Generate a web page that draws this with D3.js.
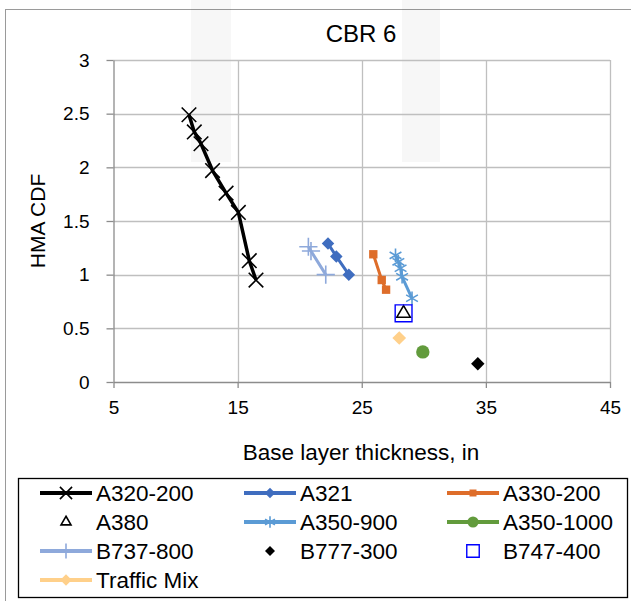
<!DOCTYPE html>
<html>
<head>
<meta charset="utf-8">
<script src="https://cdn.jsdelivr.net/npm/d3@7"></script>
<style>
  body { margin: 0; background: #fff; }
  svg { font-family: "Liberation Sans", Arial, sans-serif; }
</style>
</head>
<body>
<div id="chart-container"></div>
<script>
// values: [base layer thickness (in), HMA CDF]
const a320_200 = [[11.08, 2.49], [11.51, 2.33], [12.05, 2.22], [12.98, 1.97], [14.07, 1.76], [15.06, 1.58], [15.94, 1.13], [16.48, 0.95]];
const a321 = [[22.28, 1.29], [22.95, 1.17], [23.96, 1.00]];
const a330_200 = [[25.93, 1.19], [26.61, 0.95], [26.96, 0.86]];
const a380 = [[28.37, 0.64]];
const a350_900 = [[27.72, 1.18], [27.95, 1.12], [28.13, 1.06], [28.25, 0.98], [29.05, 0.78]];
const a350_1000 = [[29.92, 0.28]];
const b737_800 = [[20.70, 1.26], [20.91, 1.22], [22.10, 1.00]];
const b777_300 = [[34.35, 0.17]];
const b747_400 = [[28.37, 0.64]];
const trafficMix = [[28.02, 0.41]];

const xTicks = [5, 15, 25, 35, 45];
const yTicks = [0, 0.5, 1, 1.5, 2, 2.5, 3];

const series = [
  { name: "A320-200", data: a320_200, color: "#000000", line: true, lw: 3.5, symbol: d3.symbolTimes, size: 140, stroke: true },
  { name: "A321", data: a321, color: "#3F6DBF", line: true, lw: 3, symbol: d3.symbolDiamond2, size: 100, stroke: false },
  { name: "A330-200", data: a330_200, color: "#DE6D2A", line: true, lw: 3, symbol: d3.symbolSquare, size: 70, stroke: false },
  { name: "A380", data: a380, color: "#000000", line: false, symbol: d3.symbolTriangle2, size: 130, stroke: true, lwm: 1.6 },
  { name: "A350-900", data: a350_900, color: "#5B9BD5", line: true, lw: 3, symbol: d3.symbolAsterisk, size: 130, stroke: true },
  { name: "A350-1000", data: a350_1000, color: "#629B3C", line: true, lw: 3, symbol: d3.symbolCircle, size: 140, stroke: false },
  { name: "B737-800", data: b737_800, color: "#8EA9DB", line: true, lw: 3, symbol: d3.symbolPlus, size: 110, stroke: true },
  { name: "B777-300", data: b777_300, color: "#000000", line: false, symbol: d3.symbolDiamond2, size: 115, stroke: false },
  { name: "B747-400", data: b747_400, color: "#0000FF", line: false, symbol: d3.symbolSquare2, size: 360, stroke: true, lwm: 1.4 },
  { name: "Traffic Mix", data: trafficMix, color: "#FFD08A", line: true, lw: 3, symbol: d3.symbolDiamond2, size: 120, stroke: false }
];

const width = 631, height = 601;
const plot = { left: 113.5, right: 610, top: 60, bottom: 382 };

const svg = d3.select("#chart-container").append("svg")
  .attr("width", width)
  .attr("height", height);

// chart frame
svg.append("rect")
  .attr("x", 5.5).attr("y", 9.5)
  .attr("width", 700).attr("height", 700)
  .attr("fill", "#fff")
  .attr("stroke", "#9a9a9a");

// faint watermark bars behind the chart
svg.append("rect").attr("x", 191).attr("y", 0).attr("width", 40).attr("height", 162)
  .attr("fill", "#000").attr("opacity", 0.03);
svg.append("rect").attr("x", 402).attr("y", 0).attr("width", 38).attr("height", 162)
  .attr("fill", "#000").attr("opacity", 0.03);

let x = d3.scaleLinear().domain([5, 45]).range([plot.left, plot.right]);
let y = d3.scaleLinear().domain([0, 3]).range([plot.bottom, plot.top]);

// gridlines
svg.append("g").selectAll("line.h")
  .data(yTicks.filter(d => d > 0)).enter()
  .append("line")
  .attr("x1", plot.left).attr("x2", plot.right)
  .attr("y1", d => Math.round(y(d)) + 0.5).attr("y2", d => Math.round(y(d)) + 0.5)
  .attr("stroke", "#bfbfbf").attr("stroke-width", 1.3);

svg.append("g").selectAll("line.v")
  .data(xTicks.filter(d => d > 5)).enter()
  .append("line")
  .attr("y1", plot.top).attr("y2", plot.bottom)
  .attr("x1", d => Math.round(x(d)) + 0.5).attr("x2", d => Math.round(x(d)) + 0.5)
  .attr("stroke", "#bfbfbf").attr("stroke-width", 1.3);

let xAxis = d3.axisBottom(x).tickValues(xTicks).tickSize(6).tickSizeOuter(0).tickPadding(13);
let yAxis = d3.axisLeft(y).tickValues(yTicks).tickSize(7).tickSizeOuter(0).tickPadding(17)
  .tickFormat(d => String(d));

let gx = svg.append("g")
  .attr("transform", "translate(0," + plot.bottom + ")")
  .call(xAxis);
let gy = svg.append("g")
  .attr("transform", "translate(" + plot.left + ",0)")
  .call(yAxis);

[gx, gy].forEach(g => {
  g.select(".domain").attr("stroke", "#8c8c8c").attr("stroke-width", 1.3);
  g.selectAll(".tick line").attr("stroke", "#8c8c8c").attr("stroke-width", 1.3);
  g.selectAll(".tick text").attr("fill", "#000").attr("font-size", 19)
    .attr("font-family", "\"Liberation Sans\", Arial, sans-serif");
});

// titles
svg.append("text")
  .attr("x", 361).attr("y", 42)
  .attr("text-anchor", "middle")
  .attr("font-size", 24)
  .text("CBR 6");

svg.append("text")
  .attr("x", 361).attr("y", 460)
  .attr("text-anchor", "middle")
  .attr("font-size", 22.5)
  .text("Base layer thickness, in");

svg.append("text")
  .attr("transform", "translate(45," + ((plot.top + plot.bottom) / 2) + ") rotate(-90)")
  .attr("text-anchor", "middle")
  .attr("font-size", 21)
  .text("HMA CDF");

// series
let line = d3.line().x(d => x(d[0])).y(d => y(d[1]));

function drawMarker(g, s, px, py) {
  g.append("path")
    .attr("transform", "translate(" + px + "," + py + ")")
    .attr("d", d3.symbol().type(s.symbol).size(s.size)())
    .attr("fill", s.stroke ? "none" : s.color)
    .attr("stroke", s.color)
    .attr("stroke-width", s.stroke ? (s.lwm || 1.6) : 0);
}

series.forEach(s => {
  let g = svg.append("g").attr("class", "series");
  if (s.line && s.data.length > 1) {
    g.append("path")
      .datum(s.data)
      .attr("d", line)
      .attr("fill", "none")
      .attr("stroke", s.color)
      .attr("stroke-width", s.lw)
      .attr("stroke-linejoin", "round");
  }
  s.data.forEach(d => drawMarker(g, s, x(d[0]), y(d[1])));
});

// legend
const legendBox = { x: 18.5, y: 478.5, w: 609, h: 119 };
svg.append("rect")
  .attr("x", legendBox.x).attr("y", legendBox.y)
  .attr("width", legendBox.w).attr("height", legendBox.h)
  .attr("fill", "#fff").attr("stroke", "#000").attr("stroke-width", 1.3);

const colX = [40, 244, 447];
const rowY = [493, 522, 551, 580];

series.forEach((s, i) => {
  let cx = colX[i % 3], cy = rowY[Math.floor(i / 3)];
  let g = svg.append("g").attr("class", "legend-item");
  if (s.line) {
    g.append("line")
      .attr("x1", cx).attr("x2", cx + 52)
      .attr("y1", cy).attr("y2", cy)
      .attr("stroke", s.color).attr("stroke-width", 4);
  }
  let ls = Object.assign({}, s, { size: s.size * (s.line ? 0.7 : 0.55) });
  drawMarker(g, ls, cx + 26, cy);
  g.append("text")
    .attr("x", cx + 56).attr("y", cy)
    .attr("dy", "0.35em")
    .attr("font-size", 22.5)
    .text(s.name);
});
</script>
</body>
</html>
